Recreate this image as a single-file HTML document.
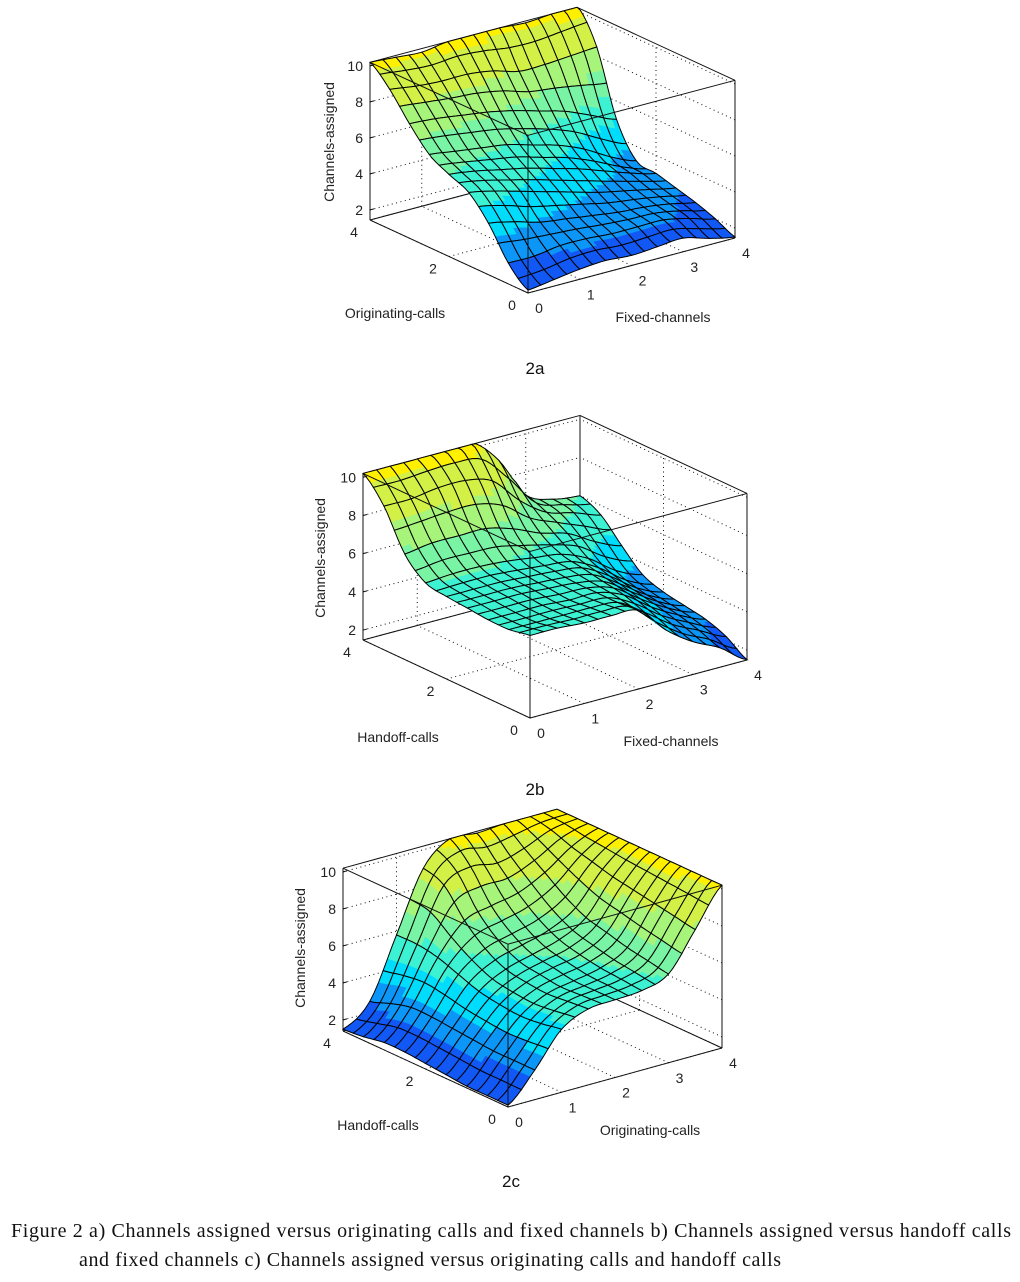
<!DOCTYPE html>
<html><head><meta charset="utf-8"><style>
html,body{margin:0;padding:0;background:#fff;}
svg{display:block;}
.tk{font-family:"Liberation Sans",sans-serif;font-size:14px;fill:#222;}
.cap{font-family:"Liberation Sans",sans-serif;font-size:17px;fill:#111;}
.fig{font-family:"Liberation Serif",serif;font-size:20px;fill:#111;}
</style></head><body>
<svg id="chart" width="1020" height="1282" viewBox="0 0 1020 1282" xmlns="http://www.w3.org/2000/svg">
<text class="cap" x="535" y="374" text-anchor="middle">2a</text>
<text class="cap" x="535" y="795" text-anchor="middle">2b</text>
<text class="cap" x="511" y="1187" text-anchor="middle">2c</text>
<text class="fig" x="11" y="1237" textLength="1000" lengthAdjust="spacing">Figure 2 a) Channels assigned versus originating calls and fixed channels b) Channels assigned versus handoff calls</text>
<text class="fig" x="79" y="1266" textLength="702" lengthAdjust="spacing">and fixed channels c) Channels assigned versus originating calls and handoff calls</text>
</svg>
<script>
// ---- data (rows: y-axis value 0..4 step 0.5, columns: x-axis value 0..4 step 0.5) ----
const gridSteps = [0,0.5,1,1.5,2,2.5,3,3.5,4];
const xTicksFixed = [0,1,2,3,4];
const yTicksCalls = [0,2,4];
const zTicks = [2,4,6,8,10];
// Plot 2a: y = originating calls, x = fixed channels
const channelsA = [
 [1.6,1.8,2.0,2.1,2.0,2.1,2.2,1.8,1.5],
 [2.6,2.6,2.8,2.8,2.7,2.7,2.7,2.4,2.0],
 [4.3,4.0,3.6,3.4,3.2,3.0,2.9,2.7,2.4],
 [5.5,5.2,4.8,4.4,4.0,3.6,3.3,3.0,2.7],
 [6.0,5.8,5.5,5.2,4.8,4.4,3.9,3.4,3.0],
 [6.6,6.4,6.2,6.0,5.6,5.2,4.6,3.8,3.2],
 [7.8,7.7,7.5,7.3,7.0,6.6,6.2,5.6,5.0],
 [9.2,9.0,8.9,8.9,8.7,8.3,8.3,8.4,8.5],
 [10.2,10.1,10.0,10.2,10.2,10.2,10.1,10.2,10.3]
];
// Plot 2b: y = handoff calls, x = fixed channels
const channelsB = [
 [5.8,5.8,5.7,5.7,5.6,4.2,3.2,2.5,1.5],
 [5.6,5.6,5.6,5.6,5.5,4.6,3.6,2.9,2.2],
 [5.6,5.6,5.6,5.5,5.5,5.0,4.0,3.2,2.6],
 [5.7,5.7,5.7,5.6,5.5,5.2,4.3,3.4,2.8],
 [5.8,5.8,5.8,5.7,5.6,5.4,4.6,3.6,3.0],
 [6.0,6.1,6.1,6.0,5.8,5.6,5.0,4.0,3.4],
 [7.0,7.2,7.2,7.2,6.8,6.2,5.8,5.0,4.4],
 [9.0,9.0,9.2,9.2,8.8,7.4,6.4,6.0,5.5],
 [10.2,10.2,10.2,10.3,10.3,9.0,6.8,6.2,6.0]
];
// Plot 2c: y = handoff calls, x = originating calls
const channelsC = [
 [1.5,3.0,4.8,5.5,5.6,5.7,6.2,8.2,10.2],
 [1.5,3.0,4.6,5.4,5.6,5.8,6.4,8.4,10.2],
 [1.5,3.0,4.5,5.3,5.6,5.9,6.6,8.6,10.2],
 [1.6,3.1,4.6,5.4,5.8,6.1,6.9,8.8,10.2],
 [1.7,3.2,4.8,5.6,6.0,6.4,7.2,9.0,10.2],
 [1.8,3.3,5.2,6.2,6.6,7.0,7.8,9.3,10.2],
 [1.8,3.3,5.6,7.2,7.6,7.9,8.6,9.6,10.2],
 [1.6,3.0,5.8,8.6,9.2,9.0,9.4,10.0,10.2],
 [1.5,2.6,5.8,9.0,10.2,10.1,10.2,10.2,10.2]
];
const bandColors = ['#1258f5','#0c96f8','#00dcfc','#3cf2d2','#78f4a4','#a6f47a','#d2f046','#fff000'];
const bandEdges = [2.6,3.7,4.9,6.0,7.2,8.4,9.9];

const NS='http://www.w3.org/2000/svg';
const svg=document.getElementById('chart');
function mk(tag,parent){const e=document.createElementNS(NS,tag);parent.appendChild(e);return e;}

function cr(p0,p1,p2,p3,t){return 0.5*((2*p1)+(-p0+p2)*t+(2*p0-5*p1+4*p2-p3)*t*t+(-p0+3*p1-3*p2+p3)*t*t*t);}
function sample1(arr,u){const n=arr.length-1;let i=Math.floor(u);if(i>=n)i=n-1;if(i<0)i=0;const t=u-i;
 const g=k=>arr[Math.max(0,Math.min(n,k))];return cr(g(i-1),g(i),g(i+1),g(i+2),t);}
function sample2(grid,u,v){const col=grid.map(r=>sample1(r,u));return sample1(col,v);}
function band(z){let k=0;while(k<bandEdges.length&&z>=bandEdges[k])k++;return bandColors[k];}

function drawPlot(cfg){
 const g=mk('g',svg);
 
 
 const P=(x,y,z)=>[cfg.O[0]+x*cfg.ex[0]+y*cfg.ey[0], cfg.O[1]+x*cfg.ex[1]+y*cfg.ey[1]-(z-cfg.zmin)*cfg.zs];
 const line=(a,b,dash,w,name)=>{const l=mk('line',g);l.setAttribute('x1',a[0]);l.setAttribute('y1',a[1]);l.setAttribute('x2',b[0]);l.setAttribute('y2',b[1]);
  l.setAttribute('stroke','#111');l.setAttribute('stroke-width',w||1);if(dash)l.setAttribute('stroke-dasharray','1,3.5');
  
  return l;};
 const zb=cfg.zmin, zt=cfg.ztop;
 xTicksFixed.forEach(x=>{line(P(x,0,zb),P(x,4,zb),true,1,'floor-grid-line');line(P(x,4,zb),P(x,4,zt),true,1,'wall-grid-line');});
 yTicksCalls.forEach(y=>{line(P(0,y,zb),P(4,y,zb),true,1,'floor-grid-line');line(P(4,y,zb),P(4,y,zt),true,1,'wall-grid-line');});
 zTicks.forEach(z=>{line(P(0,4,z),P(4,4,z),true,1,'wall-grid-line');line(P(4,0,z),P(4,4,z),true,1,'wall-grid-line');});
 line(P(4,0,zb),P(4,4,zb),false,1,'box-edge');line(P(0,4,zb),P(4,4,zb),false,1,'box-edge');
 line(P(4,4,zb),P(4,4,zt),false,1,'box-edge');line(P(0,4,zt),P(4,4,zt),false,1,'box-edge');line(P(4,0,zt),P(4,4,zt),false,1,'box-edge');
 const data=cfg.data, C=16, S=3, N=C*S;
 const Z=[];for(let j=0;j<=N;j++){Z.push([]);for(let i=0;i<=N;i++){let z=sample2(data,i*8/N,j*8/N);z=Math.max(zb+0.02,Math.min(zt,z));Z[j].push(z);}}
 const V=(i,j)=>P(i*4/N,j*4/N,Z[j][i]);
 const cells=[];for(let cj=0;cj<C;cj++)for(let ci=0;ci<C;ci++)cells.push([ci,cj]);
 cells.sort((a,b)=>(b[0]+b[1])-(a[0]+a[1]));
 const sg=mk('g',g);
 
 
 cells.forEach(([ci,cj])=>{
  for(let sj=0;sj<S;sj++)for(let si=0;si<S;si++){
   const i=ci*S+si,j=cj*S+sj;
   const pts=[V(i,j),V(i+1,j),V(i+1,j+1),V(i,j+1)];
   const zm=(Z[j][i]+Z[j][i+1]+Z[j+1][i]+Z[j+1][i+1])/4;
   const p=mk('polygon',sg);p.setAttribute('points',pts.map(q=>q[0].toFixed(1)+','+q[1].toFixed(1)).join(' '));
   p.setAttribute('fill',band(zm));p.setAttribute('stroke',band(zm));p.setAttribute('stroke-width','0.6');
   
   
  }
  const o=[];const i0=ci*S,j0=cj*S;
  for(let k=0;k<=S;k++)o.push(V(i0+k,j0));for(let k=1;k<=S;k++)o.push(V(i0+S,j0+k));
  for(let k=S-1;k>=0;k--)o.push(V(i0+k,j0+S));for(let k=S-1;k>0;k--)o.push(V(i0,j0+k));
  const m=mk('polygon',sg);m.setAttribute('points',o.map(q=>q[0].toFixed(1)+','+q[1].toFixed(1)).join(' '));
  m.setAttribute('fill','none');m.setAttribute('stroke','#000');m.setAttribute('stroke-width','1');
  
  
 });
 line(P(0,0,zb),P(4,0,zb),false,1,'box-edge');line(P(0,0,zb),P(0,4,zb),false,1,'box-edge');
 line(P(0,0,zb),P(0,0,zt),false,1,'box-edge');line(P(0,4,zb),P(0,4,zt),false,1,'box-edge');line(P(4,0,zb),P(4,0,zt),false,1,'box-edge');
 line(P(0,0,zt),P(0,4,zt),false,1,'box-edge');line(P(0,0,zt),P(4,0,zt),false,1,'box-edge');
 const txt=(x,y,s,anchor,name)=>{const t=mk('text',g);t.setAttribute('x',x.toFixed(1));t.setAttribute('y',y.toFixed(1));t.setAttribute('class','tk');t.setAttribute('text-anchor',anchor);t.textContent=s;
  
  return t;};
 zTicks.forEach(z=>{const p=P(0,4,z);line(p,[p[0]+4,p[1]-1],false,1,'z-tick');txt(p[0]-7,p[1]+5,String(z),'end','z-tick-label');});
 xTicksFixed.forEach(x=>{const p=P(x,0,zb);txt(p[0]+11,p[1]+20,String(x),'middle','x-tick-label');});
 yTicksCalls.forEach(y=>{const p=P(0,y,zb);txt(p[0]-16,p[1]+17,String(y),'middle','y-tick-label');});
 txt(cfg.xl[0],cfg.xl[1],cfg.xlabel,'middle','x-axis-title');
 txt(cfg.yl[0],cfg.yl[1],cfg.ylabel,'middle','y-axis-title');
 const zt2=txt(0,0,'Channels-assigned','middle','z-axis-title');
 zt2.setAttribute('transform','translate('+cfg.zl[0]+','+cfg.zl[1]+') rotate(-90)');
}
drawPlot({name:'plot-2a',O:[528,293],ex:[51.75,-13.75],ey:[-39.5,-18.25],zs:18,zmin:1.44,ztop:10.2,data:channelsA,
 xlabel:'Fixed-channels',ylabel:'Originating-calls',xl:[663,322],yl:[395,318],zl:[334,142]});
drawPlot({name:'plot-2b',O:[530,718],ex:[54.25,-14.5],ey:[-41.75,-19.5],zs:19.1,zmin:1.48,ztop:10.2,data:channelsB,
 xlabel:'Fixed-channels',ylabel:'Handoff-calls',xl:[671,746],yl:[398,742],zl:[325,558]});
drawPlot({name:'plot-2c',O:[508,1107],ex:[53.5,-14.75],ey:[-41.25,-19],zs:18.5,zmin:1.4,ztop:10.2,data:channelsC,
 xlabel:'Originating-calls',ylabel:'Handoff-calls',xl:[650,1135],yl:[378,1130],zl:[305,948]});
</script>
</body></html>
